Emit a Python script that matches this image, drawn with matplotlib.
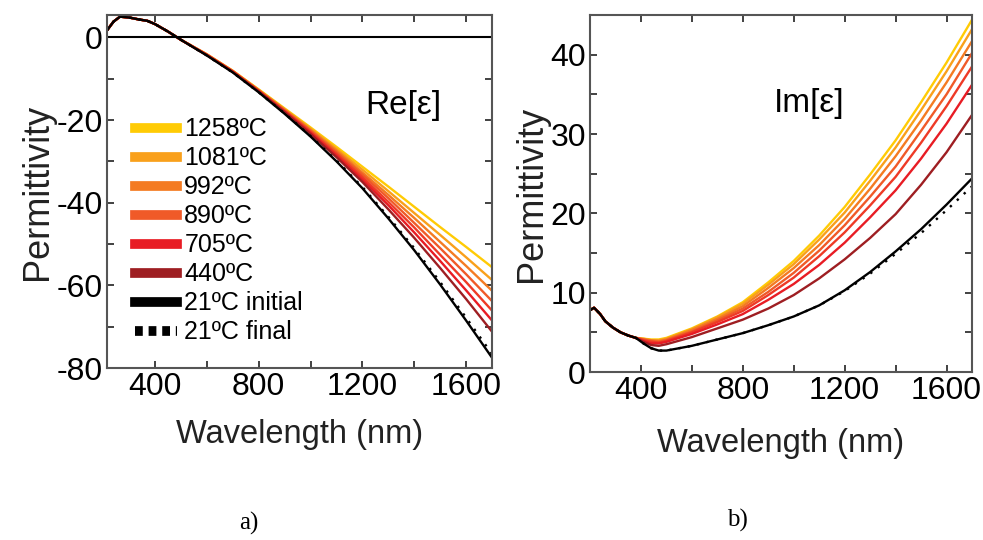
import matplotlib.pyplot as plt
from matplotlib.ticker import MultipleLocator

plt.rcParams['font.family'] = ['Liberation Sans', 'DejaVu Sans']
plt.rcParams['axes.unicode_minus'] = False

# ---- dados ----
temps = ["1258ºC", "1081ºC", "992ºC", "890ºC", None, "705ºC", "440ºC"]
cores = ["#FFCB05", "#F9A01B", "#F47B22", "#F05A28", "#EE3A26", "#E81C24", "#9E1E22"]

# Re[eps]
wl_re = [215, 240, 265, 300, 340, 370, 400, 450, 500,
         600, 700, 800, 900, 1000, 1100, 1200, 1300, 1400, 1500, 1600, 1700]
re_curto = [1.7, 3.8, 5.0, 4.8, 4.3, 4.0, 3.2, 1.4, -0.6]
re_quente = [
    [-4.1, -8.1, -12.6, -17.2, -21.8, -26.5, -31.3, -36.1, -41.0, -45.9, -50.7, -55.6],
    [-4.1, -8.1, -12.7, -17.4, -22.1, -27.0, -32.0, -37.2, -42.5, -47.8, -53.2, -58.7],
    [-4.2, -8.2, -12.8, -17.5, -22.4, -27.4, -32.7, -38.1, -43.7, -49.5, -55.3, -61.3],
    [-4.2, -8.2, -12.9, -17.7, -22.6, -27.8, -33.2, -38.9, -44.9, -51.0, -57.3, -63.8],
    [-4.2, -8.3, -13.0, -17.8, -22.9, -28.2, -33.8, -39.8, -46.0, -52.6, -59.2, -66.1],
    [-4.3, -8.3, -13.0, -18.0, -23.1, -28.6, -34.4, -40.6, -47.2, -54.1, -61.2, -68.5],
    [-4.3, -8.4, -13.1, -18.1, -23.4, -29.0, -35.0, -41.6, -48.5, -55.8, -63.3, -71.2],
]
re_inicial = [-4.4, -8.5, -13.3, -18.5, -24.0, -30.0, -36.5, -43.8, -51.5, -59.8, -68.5, -77.5]
re_final = [-4.4, -8.5, -13.3, -18.4, -23.9, -29.8, -36.2, -43.4, -51.0, -59.2, -67.8, -76.6]

# Im[eps]
wl_im = [200, 216, 240, 260, 290, 320, 350, 380,
         410, 440, 470, 500, 600, 700, 800, 900, 1000, 1100, 1200, 1300, 1400, 1500, 1600, 1700]
im_curto = [7.8, 8.1, 7.3, 6.4, 5.6, 5.0, 4.6, 4.3]
im_quente = [
    [4.2, 4.1, 4.1, 4.3, 5.5, 7.0, 8.8, 11.3, 14.0, 17.2, 20.8, 24.9, 29.2, 34.0, 39.0, 44.4],
    [4.2, 4.0, 4.0, 4.2, 5.4, 6.9, 8.6, 11.0, 13.6, 16.7, 20.1, 24.1, 28.3, 33.0, 37.9, 43.2],
    [4.1, 4.0, 3.9, 4.1, 5.3, 6.7, 8.3, 10.6, 13.1, 16.0, 19.3, 23.1, 27.2, 31.7, 36.5, 41.7],
    [4.1, 3.9, 3.8, 4.0, 5.1, 6.5, 8.0, 10.1, 12.5, 15.3, 18.5, 22.1, 25.9, 30.4, 35.0, 40.2],
    [4.0, 3.8, 3.7, 3.9, 5.0, 6.3, 7.7, 9.7, 11.9, 14.6, 17.6, 21.0, 24.6, 28.9, 33.5, 38.5],
    [3.9, 3.6, 3.6, 3.8, 4.8, 6.0, 7.3, 9.1, 11.1, 13.5, 16.3, 19.5, 22.9, 26.9, 31.3, 36.2],
    [3.8, 3.4, 3.3, 3.5, 4.4, 5.5, 6.6, 8.0, 9.7, 11.8, 14.2, 16.9, 19.9, 23.6, 27.7, 32.4],
]
im_inicial = [3.6, 3.0, 2.7, 2.7, 3.3, 4.1, 4.9, 5.9, 7.0, 8.4, 10.3, 12.6, 15.2, 18.0, 21.1, 24.4]
im_final = [3.6, 3.0, 2.7, 2.7, 3.3, 4.1, 4.9, 5.9, 7.0, 8.4, 10.2, 12.4, 14.9, 17.5, 20.4, 23.4]

fig = plt.figure(figsize=(9.83, 5.4), dpi=100)
ax1 = fig.add_axes([0.1089, 0.3185, 0.3916, 0.6537])
ax2 = fig.add_axes([0.6002, 0.3111, 0.3886, 0.6611])

# painel a) parte real
for dados, cor, rot in zip(re_quente, cores, temps):
    ax1.plot(wl_re, re_curto + dados, color=cor, lw=1.7, label=rot if rot else "_nolegend_")
ax1.plot(wl_re, re_curto + re_inicial, color="black", lw=1.7, label="21ºC initial")
ax1.plot(wl_re, re_curto + re_final, color="black", lw=1.7, ls=(0, (1, 3)), label="21ºC final")
ax1.axhline(0, color="black", lw=1.5)
ax1.set_xlim(215, 1700)
ax1.set_ylim(-80, 5.4)
ax1.yaxis.set_major_locator(MultipleLocator(20))
ax1.yaxis.set_minor_locator(MultipleLocator(10))
ax1.text(1358, -16.5, "Re[ε]", fontsize=24, ha="center", va="center")

leg = ax1.legend(loc="upper left", bbox_to_anchor=(0.072, 0.71), frameon=False,
                 fontsize=18, handlelength=1.7, handletextpad=0.28,
                 labelspacing=0.2, borderpad=0, borderaxespad=0)
for h in leg.get_lines():
    h.set_linewidth(7)
leg.get_lines()[-1].set_linestyle((0, (0.8, 0.6)))

# painel b) parte imaginaria
for dados, cor in zip(im_quente, cores):
    ax2.plot(wl_im, im_curto + dados, color=cor, lw=1.7)
ax2.plot(wl_im, im_curto + im_inicial, color="black", lw=1.7)
ax2.plot(wl_im, im_curto + im_final, color="black", lw=1.7, ls=(0, (1, 3)))
ax2.set_xlim(200, 1700)
ax2.set_ylim(0, 45)
ax2.yaxis.set_major_locator(MultipleLocator(10))
ax2.yaxis.set_minor_locator(MultipleLocator(5))
ax2.text(1059, 33.8, "Im[ε]", fontsize=24, ha="center", va="center")

for ax in (ax1, ax2):
    ax.xaxis.set_major_locator(MultipleLocator(400))
    ax.xaxis.set_minor_locator(MultipleLocator(200))
    ax.tick_params(which="both", direction="in", top=True, right=True,
                   labelsize=23, width=1.3, color="#333333", pad=3, length=5)
    for s in ax.spines.values():
        s.set_color("#555555")
        s.set_linewidth(1.5)
    ax.set_ylabel("Permittivity", fontsize=26, color="#222222", labelpad=1)

ax1.set_xlabel("Wavelength (nm)", fontsize=23.5, color="#222222", labelpad=12)
ax2.set_xlabel("Wavelength (nm)", fontsize=23.5, color="#222222", labelpad=16)

fig.text(0.253, 0.02, "a)", fontsize=18, family="Liberation Serif", ha="center")
fig.text(0.75, 0.025, "b)", fontsize=18, family="Liberation Serif", ha="center")

plt.savefig("out.png", dpi=100)
